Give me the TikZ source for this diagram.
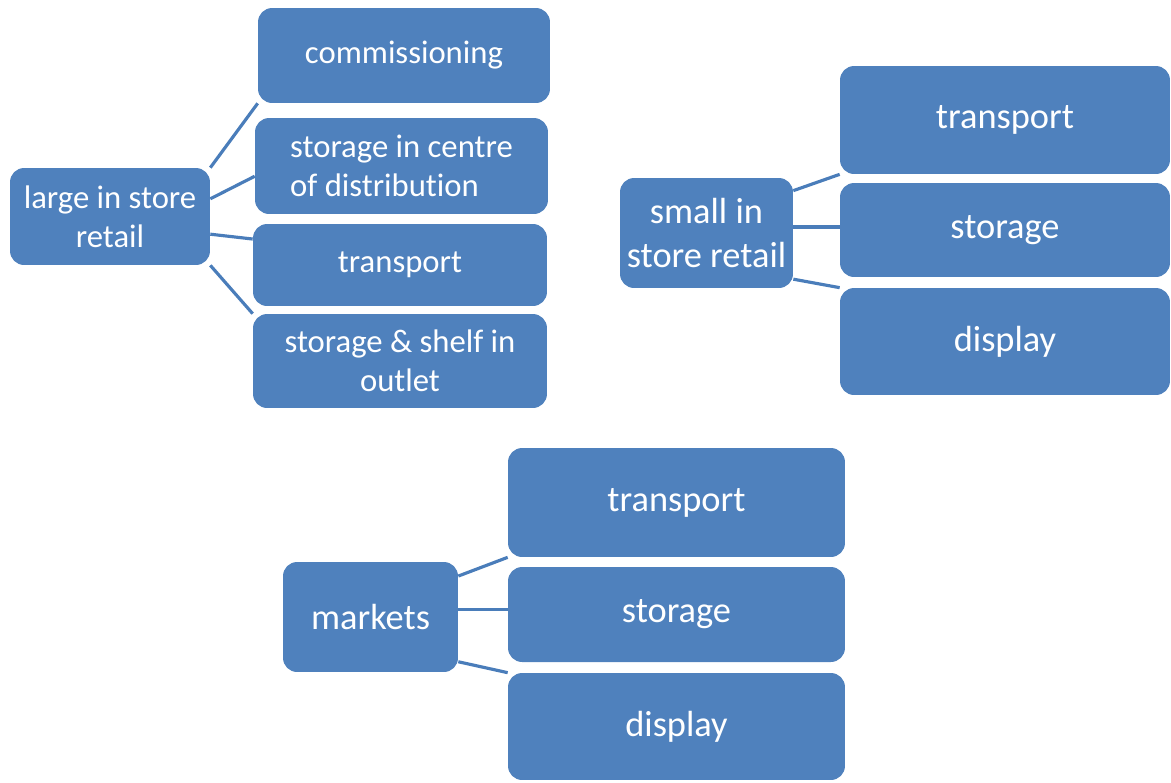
\documentclass[tikz,border=0pt]{standalone}
\usepackage{fontspec}
\setmainfont{Carlito}[Ligatures=NoCommon]
\usepackage{tikz}

\definecolor{boxblue}{HTML}{4F81BD}
\definecolor{linkblue}{HTML}{4A7DBA}

\begin{document}
\begin{tikzpicture}[
            x=0.02cm, y=-0.02cm,
            box/.style={rectangle, rounded corners=8pt, fill=boxblue, text=white, inner sep=0pt, align=center}, % Rounded blue box
            bigtext/.style={font=\fontsize{20.7}{24.5}\selectfont}, % Text of the two right groups
            smalltext/.style={font=\fontsize{18.6}{22}\selectfont}, % Text of the first group
            link/.style={draw=linkblue, line width=1.8pt} % Straight connector
            ]

                \useasboundingbox (0,0) rectangle (1171,782);

                % Large in store retail with its four steps
                \node[box, smalltext, minimum width=4cm, minimum height=1.94cm] (lg) at (110,216.5) {large in store\\retail};
                \node[box, smalltext, minimum width=5.84cm, minimum height=1.9cm] (lgA) at (404,55.5) {commissioning};
                \node[box, smalltext, minimum width=5.86cm, minimum height=1.92cm, align=left] (lgB) at (401.5,166) {storage in centre\\of distribution};
                \node[box, smalltext, minimum width=5.88cm, minimum height=1.64cm] (lgC) at (400,265) {transport};
                \node[box, smalltext, minimum width=5.88cm, minimum height=1.88cm] (lgD) at (400,361) {storage \& shelf in\\outlet};

                \draw[link] (lg.north east) -- (lgA.south west);
                \draw[link] (lg.10) -- (lgB.184);
                \draw[link] (lg.-10) -- (lgC.170);
                \draw[link] (lg.south east) -- (lgD.north west);

                % Small in store retail
                \node[box, bigtext, minimum width=3.46cm, minimum height=2.2cm] (sm) at (706.5,233) {small in\\store retail};
                \node[box, bigtext, minimum width=6.6cm, minimum height=2.16cm] (smA) at (1005,120) {transport};
                \node[box, bigtext, minimum width=6.6cm, minimum height=1.88cm] (smB) at (1005,230) {storage};
                \node[box, bigtext, minimum width=6.6cm, minimum height=2.14cm] (smC) at (1005,341.5) {display};

                \draw[link] (sm.26) -- (smA.south west);
                \draw[link] (sm.4) -- (sm.4 -| smB.west);
                \draw[link] (sm.-28) -- (smC.north west);

                % Markets
                \node[box, bigtext, minimum width=3.5cm, minimum height=2.2cm] (mk) at (370.5,617) {markets};
                \node[box, bigtext, minimum width=6.74cm, minimum height=2.18cm] (mkA) at (676.5,502.5) {transport};
                \node[box, bigtext, minimum width=6.74cm, minimum height=1.9cm] (mkB) at (676.5,614.5) {storage};
                \node[box, bigtext, minimum width=6.74cm, minimum height=2.14cm] (mkC) at (676.5,726.5) {display};

                \draw[link] (mk.25) -- (mkA.south west);
                \draw[link] (mk.5) -- (mk.5 -| mkB.west);
                \draw[link] (mk.-27) -- (mkC.north west);

            \end{tikzpicture}
\end{document}
